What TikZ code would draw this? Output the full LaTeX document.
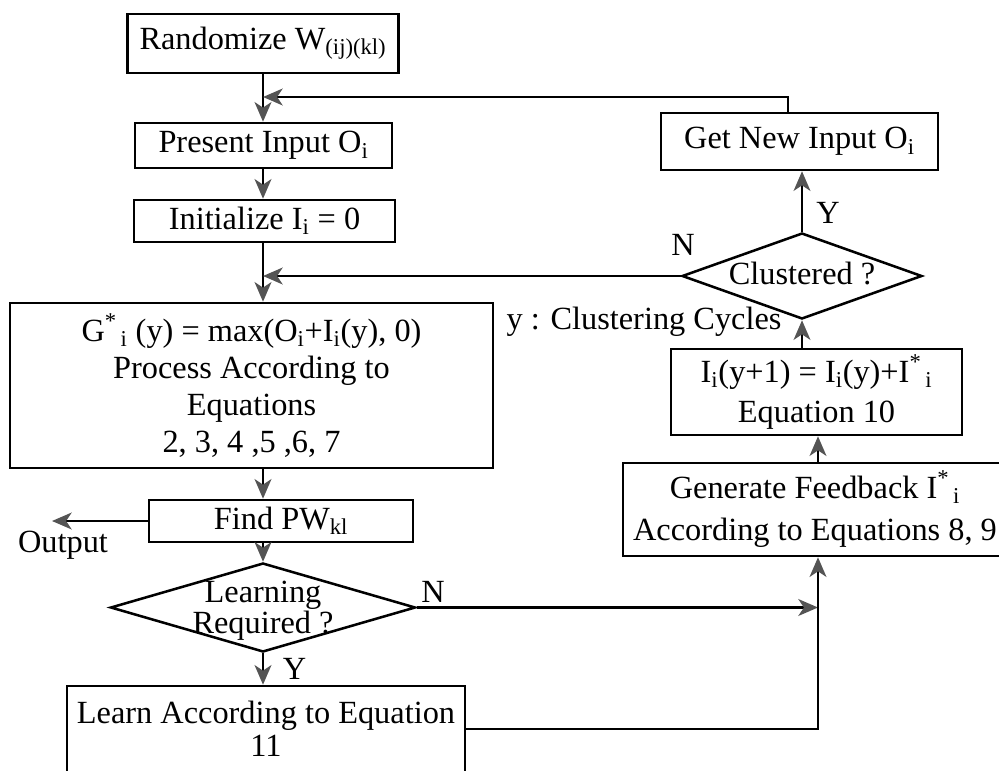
\documentclass[tikz,border=0pt]{standalone}
\usepackage{fontspec}
\setmainfont{Liberation Serif}
\usetikzlibrary{arrows.meta,shapes.geometric,positioning}
\definecolor{tipgray}{gray}{0.33}

\begin{document}
\begin{tikzpicture}[
		x = 0.025cm, y = -0.025cm,
		every node/.style = {font=\fontsize{23}{26}\selectfont},
		box/.style 2 args = {draw, line width=1.8pt, align=center, inner sep=0pt,
			minimum width=#1*0.025cm, minimum height=#2*0.025cm},
		choice/.style 2 args = {draw, diamond, line width=1.8pt, inner sep=0pt,
			minimum width=#1*0.025cm, minimum height=#2*0.025cm},
		arr/.style = {line width=1.5pt,
			-{Stealth[length=14pt, width=12pt, inset=4pt, color=tipgray, fill=tipgray]}}
	]

	\useasboundingbox (0,0) rectangle (999,770);

	\coordinate (fbk) at (263,97);
	\coordinate (gc) at (788,97);
	\coordinate (oj) at (52,521);
	\coordinate (rj) at (818,610);

	% left column
	\node[box={271}{59}] (rand) at (263,43.5) {Randomize W\textsubscript{(ij)(kl)}};
	\node[box={257}{45}] (pres) at (263.5,145.5) {Present Input O\textsubscript{i}};
	\node[box={261}{42}] (init) at (264.5,221) {Initialize I\textsubscript{i} = 0};
	\node[box={483}{165}, font=\fontsize{23}{26.3}\selectfont] (proc) at (251.5,385.5)
		{G\textsuperscript{*}\textsubscript{\,i} (y) = max(O\textsubscript{i}+I\textsubscript{i}(y), 0)\\
		Process According to\\Equations\\2, 3, 4 ,5 ,6, 7};
	\node[box={264}{42}] (find) at (281,521) {Find PW\textsubscript{kl}};
	\node[choice={305}{89},
		label={[align=center, font=\fontsize{23}{19}\selectfont, yshift=-2pt]center:{Learning\\Required ?}}]
		(learnq) at (263,607.5) {};
	\node[box={398}{86}, font=\fontsize{23}{23.5}\selectfont] (learn) at (266,729)
		{Learn According to Equation\\11};

	% right column
	\node[box={384}{93}, font=\fontsize{23}{30}\selectfont] (gen) at (815,509.5)
		{Generate Feedback I\textsuperscript{*}\textsubscript{\,i}\\According to Equations 8, 9};
	\node[box={291}{86}, font=\fontsize{23}{28}\selectfont] (upd) at (816.5,392)
		{I\textsubscript{i}(y+1) = I\textsubscript{i}(y)+I\textsuperscript{*}\textsubscript{\,i}\\Equation 10};
	\node[choice={240}{86}, label={[yshift=2pt]center:{Clustered ?}}] (clus) at (802,276) {};
	\node[box={277}{57}] (getnew) at (799.5,141.5) {Get New Input O\textsubscript{i}};

	\node (cyc) at (644,322) {y : Clustering Cycles};
	\node (out) at (63,545) {Output};

	% connectors
	\draw[arr] (rand.south -| fbk) -- (pres.north -| fbk);
	\draw[arr] (gc |- getnew.north) -- (gc) -- (fbk);
	\draw[arr] (pres.south -| fbk) -- (init.north -| fbk);
	\draw[arr] (init.south -| fbk) -- (proc.north -| fbk);
	\draw[arr] (clus.west) -- (clus.west -| fbk);
	\draw[arr] (proc.south -| fbk) -- (find.north -| fbk);
	\draw[arr] (find.west) -- (oj);
	\draw[arr] (find.south -| fbk) -- (learnq.north);
	\draw[arr] (learnq.south) -- node[right=10pt]{Y} (learnq.south |- learn.north);
	\draw[arr] (learnq.east) -- (learnq.east -| rj);
	\draw[arr] (learn.east) -| (rj |- gen.south);
	\draw[arr] (rj |- gen.north) -- (rj |- upd.south);
	\draw[arr] (clus.south |- upd.north) -- (clus.south);
	\draw[arr] (clus.north) -- (clus.north |- getnew.south);

	\node (nl) at (433,592) {N};
	\node (nc) at (683,245) {N};
	\node (yc) at (828,213) {Y};

\end{tikzpicture}
\end{document}
